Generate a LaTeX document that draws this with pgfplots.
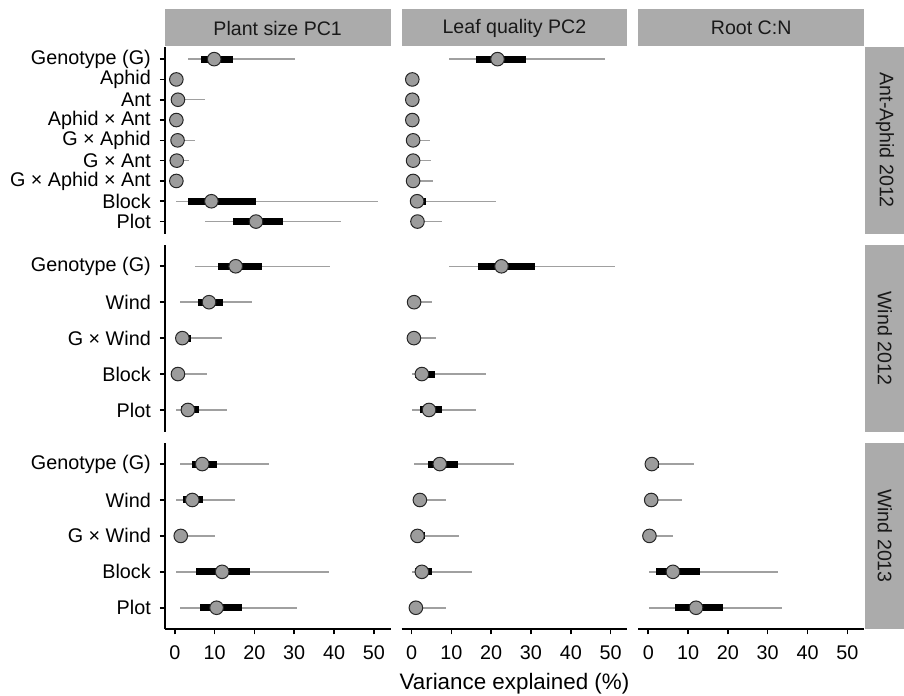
\documentclass[border=0pt]{standalone}
\usepackage{fontspec}
\setmainfont{Liberation Sans}
\usepackage{pgfplots}
\usepackage{pgfplotstable}
\usepgfplotslibrary{groupplots}
\pgfplotsset{compat=1.18}

\definecolor{stripgray}{HTML}{ABABAB}
\definecolor{ptgray}{HTML}{9C9C9C}
\definecolor{linegray}{HTML}{A0A0A0}

% columns: y position, 95% low, 50% low, median, 50% high, 95% high
% Ant-Aphid 2012 (9 = Genotype ... 1 = Plot)
\pgfplotstableread{
y lo95 lo50 med hi50 hi95
9 3.3 6.7 9.9 14.7 30.2
8 0.0 0.1 0.4 0.8 1.5
7 0.0 0.3 0.8 2.0 7.7
6 0.0 0.1 0.4 0.8 1.5
5 0.0 0.2 0.7 1.6 5.0
4 0.0 0.2 0.5 1.2 3.6
3 0.0 0.1 0.4 0.8 1.9
2 0.2 3.2 9.2 20.3 51.1
1 7.5 14.7 20.4 27.1 41.7
}\aaSize
\pgfplotstableread{
y lo95 lo50 med hi50 hi95
9 9.4 16.2 21.6 28.7 48.5
8 0.0 0.05 0.2 0.5 1.2
7 0.0 0.05 0.2 0.5 1.2
6 0.0 0.05 0.2 0.5 1.2
5 0.0 0.1 0.4 1.2 4.7
4 0.0 0.1 0.4 1.2 5.0
3 0.0 0.1 0.4 1.2 5.4
2 0.2 0.8 1.4 3.7 21.2
1 0.1 0.5 1.5 3.0 7.7
}\aaLeaf
% Wind 2012 (5 = Genotype ... 1 = Plot)
\pgfplotstableread{
y lo95 lo50 med hi50 hi95
5 5.2 10.9 15.3 21.8 38.9
4 1.4 5.9 8.6 12.0 19.4
3 0.4 1.0 1.9 4.0 11.9
2 0.0 0.2 0.8 2.2 8.1
1 0.2 1.5 3.3 6.0 13.0
}\wtSize
\pgfplotstableread{
y lo95 lo50 med hi50 hi95
5 9.4 16.6 22.6 31.0 51.1
4 0.0 0.2 0.65 1.6 5.1
3 0.0 0.2 0.6 1.6 6.2
2 0.2 1.0 2.6 6.0 18.7
1 0.2 2.1 4.4 7.6 16.2
}\wtLeaf
% Wind 2013
\pgfplotstableread{
y lo95 lo50 med hi50 hi95
5 1.3 4.4 6.9 10.6 23.7
4 0.2 2.1 4.4 7.1 15.1
3 0.1 0.6 1.5 3.0 10.1
2 0.2 5.4 11.9 18.8 38.8
1 1.3 6.3 10.5 16.8 30.8
}\wdSize
\pgfplotstableread{
y lo95 lo50 med hi50 hi95
5 0.65 4.1 7.1 11.6 25.8
4 0.3 0.9 2.1 3.7 8.7
3 0.2 0.7 1.5 3.5 11.9
2 0.2 1.0 2.6 5.1 15.2
1 0.1 0.4 1.1 2.5 8.7
}\wdLeaf
\pgfplotstableread{
y lo95 lo50 med hi50 hi95
5 0.1 0.3 0.9 2.8 11.6
4 0.0 0.2 0.75 2.0 8.5
3 0.0 0.1 0.3 1.2 6.2
2 0.1 2.0 6.2 13.0 32.7
1 0.3 6.6 12.0 18.7 33.7
}\wdRoot

% thin 95% line, thick 50% bar, point at the median
\newcommand{\intervals}[1]{%
  \addplot[only marks, mark=none, forget plot,
    error bars/.cd, x dir=both, x explicit, error mark=none,
    error bar style={draw=linegray, line width=0.75pt}]
    table[x=med, y=y, x error plus expr=\thisrow{hi95}-\thisrow{med},
          x error minus expr=\thisrow{med}-\thisrow{lo95}] {#1};
  \addplot[only marks, mark=none, forget plot,
    error bars/.cd, x dir=both, x explicit, error mark=none,
    error bar style={draw=black, line width=3.5pt}]
    table[x=med, y=y, x error plus expr=\thisrow{hi50}-\thisrow{med},
          x error minus expr=\thisrow{med}-\thisrow{lo50}] {#1};
  \addplot[only marks, mark=*, mark size=3.4pt, forget plot,
    mark options={fill=ptgray, draw=black!85, line width=0.5pt}]
    table[x=med, y=y] {#1};
}

\begin{document}
\begin{tikzpicture}[font=\fontsize{9.8}{11}\selectfont]
\begin{groupplot}[
  group style={group size=3 by 3, horizontal sep=5.5pt, vertical sep=5.5pt},
  scale only axis, width=113pt, height=93.5pt,
  xmin=-2.5, xmax=54.2, ymin=0.4,
  axis x line*=bottom, axis y line*=left,
  x axis line style={draw=none, -}, y axis line style={draw=none, -},
  xtick=\empty, ytick=\empty,
  tick align=outside, major tick length=2.5pt,
  every tick/.style={black, line width=0.8pt},
  tick label style={font=\fontsize{9.9}{11}\selectfont, text=black},
  yticklabel style={xshift=-1pt},
  xticklabel style={yshift=-2.2pt},
  /pgf/number format/assume math mode=true,
  xlabel style={font=\fontsize{11.2}{13}\selectfont},
]
% row 1: Ant-Aphid 2012
\nextgroupplot[ymax=9.6, y axis line style={draw=black, line width=0.85pt}, ytick={1,...,9},
  yticklabels={Plot, Block, G × Aphid × Ant, G × Ant, G × Aphid, Aphid × Ant, Ant, Aphid, Genotype (G)}]
\intervals{\aaSize}
\nextgroupplot[ymax=9.6]
\intervals{\aaLeaf}
\nextgroupplot[ymax=9.6]
% row 2: Wind 2012
\nextgroupplot[ymax=5.6, y axis line style={draw=black, line width=0.85pt}, ytick={1,...,5},
  yticklabels={Plot, Block, G × Wind, Wind, Genotype (G)}]
\intervals{\wtSize}
\nextgroupplot[ymax=5.6]
\intervals{\wtLeaf}
\nextgroupplot[ymax=5.6]
% row 3: Wind 2013
\nextgroupplot[ymax=5.6, y axis line style={draw=black, line width=0.85pt}, ytick={1,...,5},
  yticklabels={Plot, Block, G × Wind, Wind, Genotype (G)},
  x axis line style={draw=black, line width=0.85pt}, xtick={0,10,...,50}]
\intervals{\wdSize}
\nextgroupplot[ymax=5.6, x axis line style={draw=black, line width=0.85pt}, xtick={0,10,...,50},
  xlabel={Variance explained (\%)}]
\intervals{\wdLeaf}
\nextgroupplot[ymax=5.6, x axis line style={draw=black, line width=0.85pt}, xtick={0,10,...,50}]
\intervals{\wdRoot}
\end{groupplot}

\foreach \c/\t in {1/Plant size PC1, 2/Leaf quality PC2, 3/Root C:N} {
  \fill[stripgray] ([yshift=0.25pt]group c\c r1.north west) rectangle ([yshift=18.75pt]group c\c r1.north east);
  \node[text=black!90] at ([yshift=9.4pt]group c\c r1.north) {\t};
}
\foreach \r/\t in {1/Ant-Aphid 2012, 2/Wind 2012, 3/Wind 2013} {
  \fill[stripgray] ([xshift=0.5pt]group c3r\r.south east) rectangle ([xshift=20pt]group c3r\r.north east);
  \node[rotate=-90, text=black!90] at ([xshift=10.4pt]group c3r\r.east) {\t};
}

\pgfresetboundingbox
\useasboundingbox ([xshift=-82.5pt, yshift=23.5pt]group c1r1.north west)
  rectangle ([xshift=20pt, yshift=-33pt]group c3r3.south east);
\end{tikzpicture}
\end{document}
